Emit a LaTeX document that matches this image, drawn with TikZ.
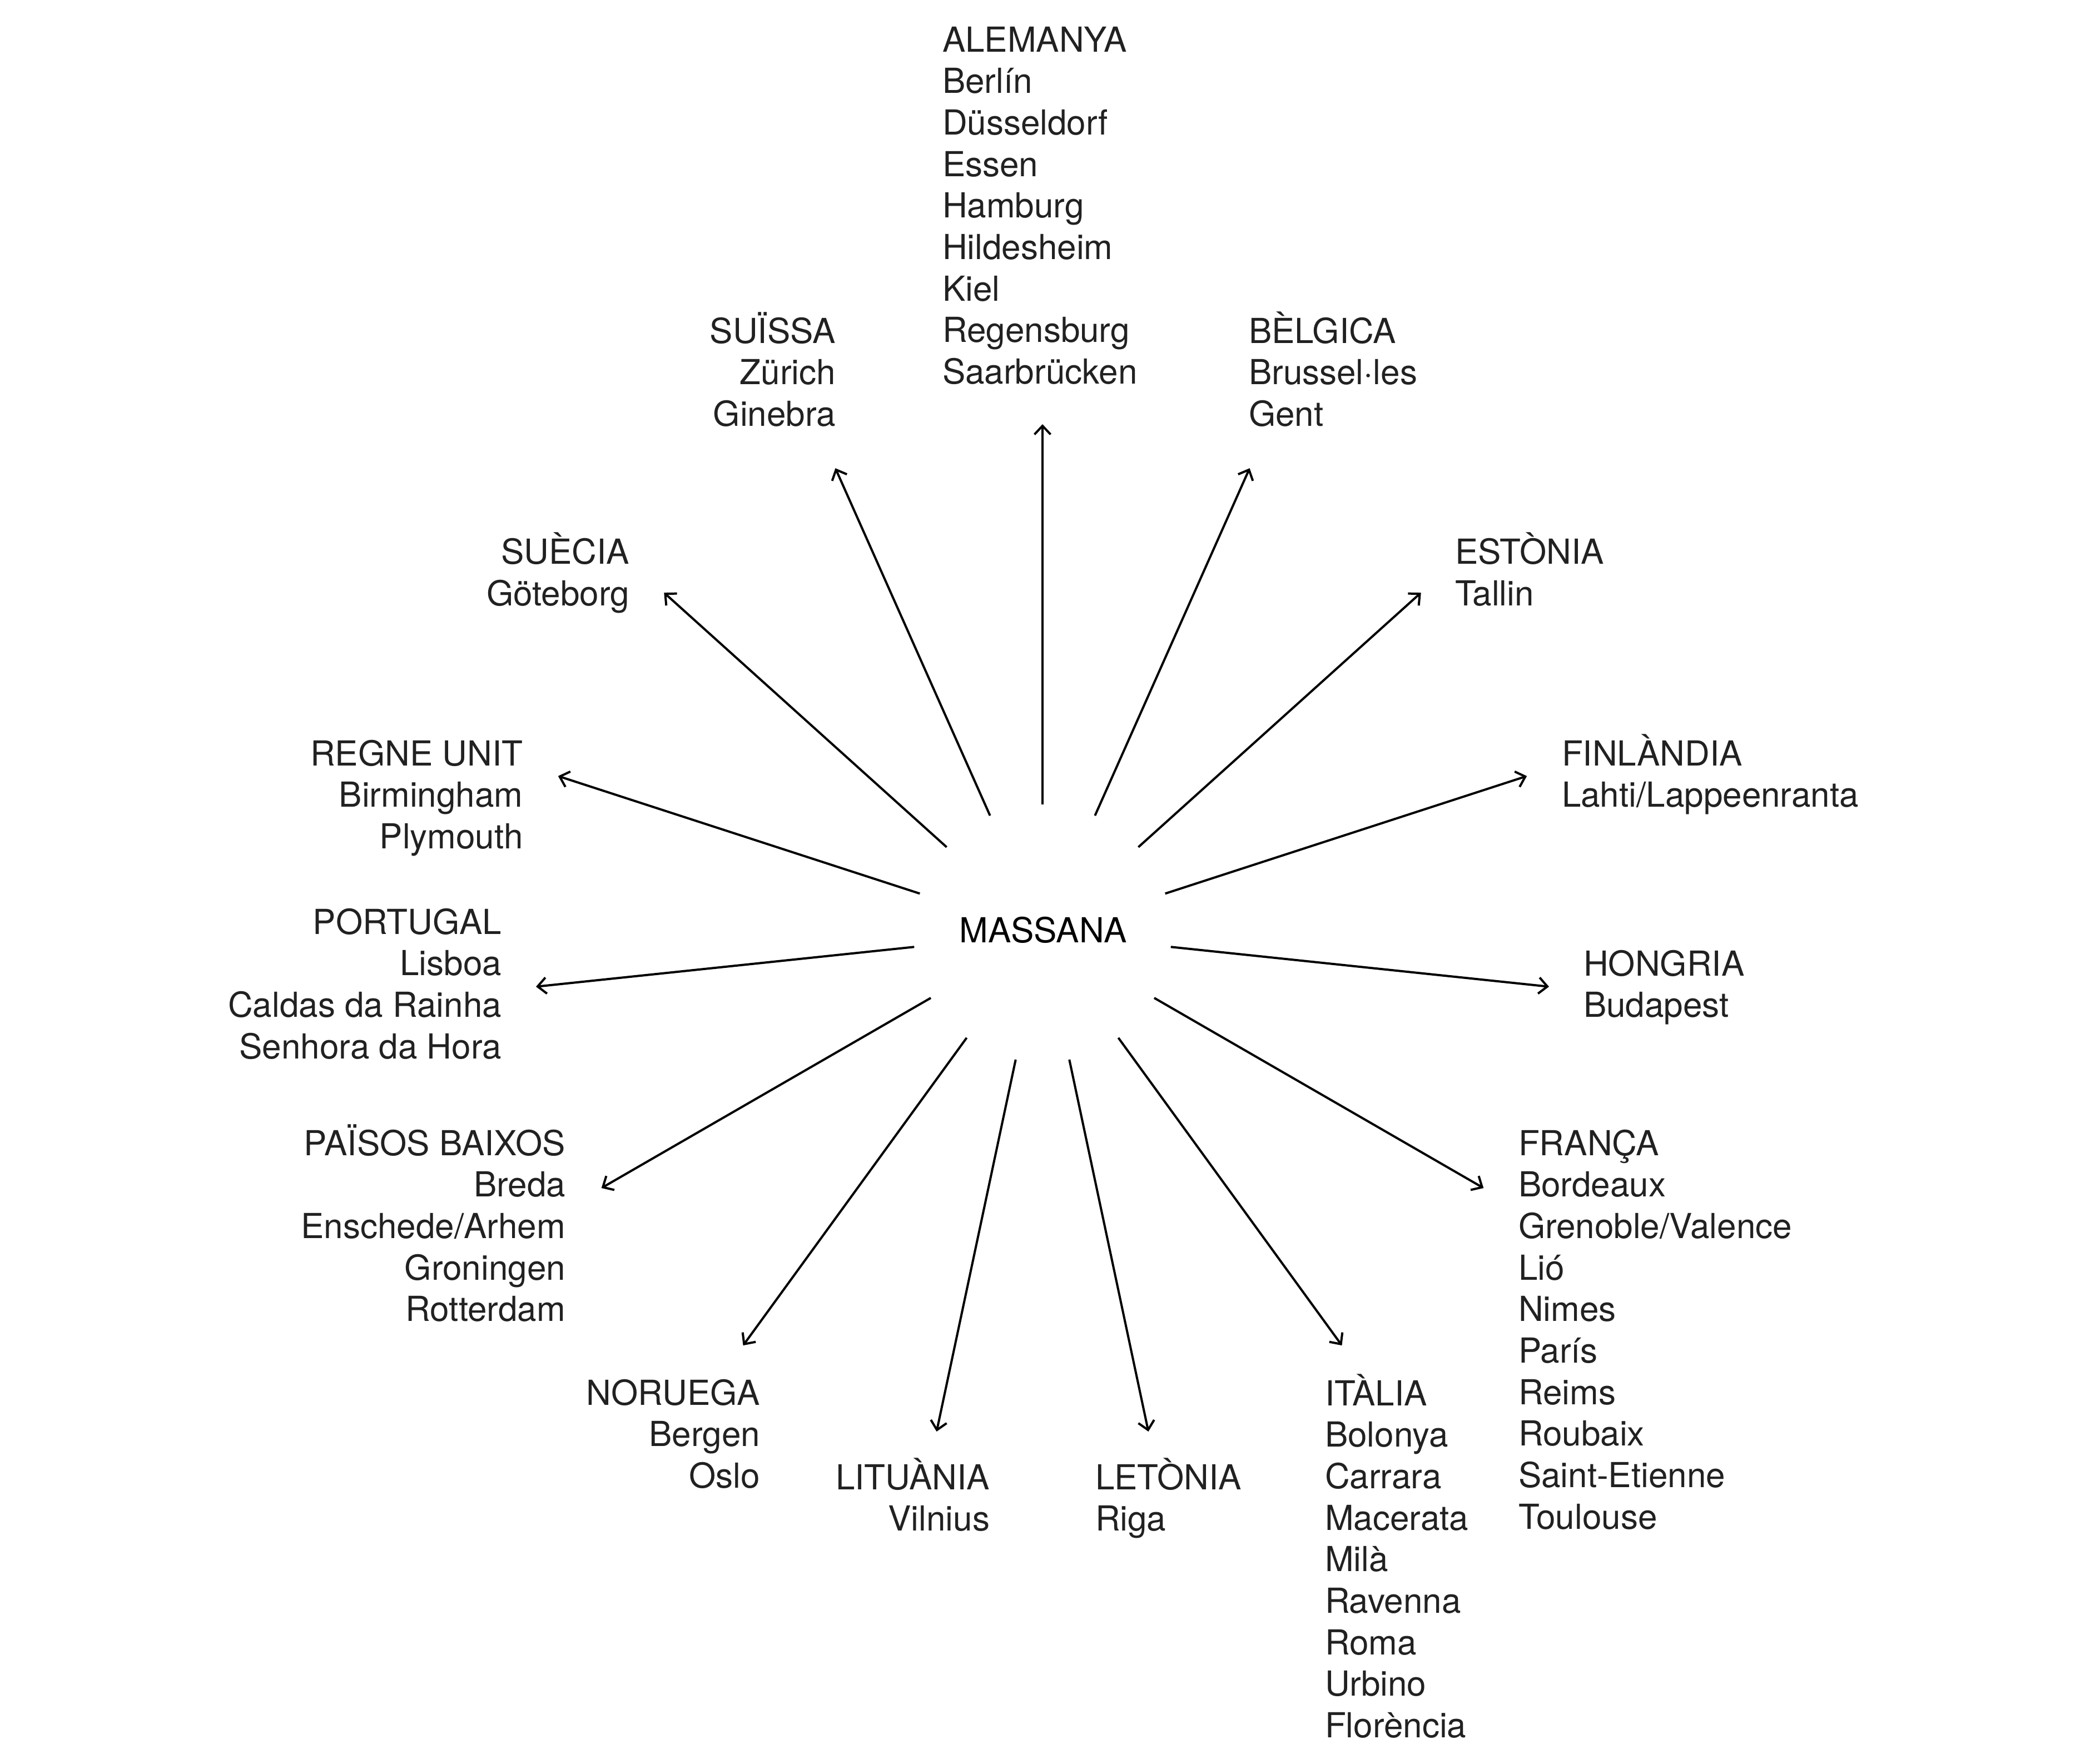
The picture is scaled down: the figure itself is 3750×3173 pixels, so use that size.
\documentclass[tikz,border=0pt]{standalone}
\usepackage{fontspec}
\setmainfont{TeX Gyre Heros}
\usetikzlibrary{arrows.meta,calc}
\definecolor{ink}{gray}{0.13}
\newcommand\lstrut{\rule{0pt}{13pt}}
\begin{document}
\begin{tikzpicture}[x=0.2pt,y=-0.2pt,
  lab/.style={inner sep=0pt, outer sep=0pt, text=ink, font=\fontsize{12.4}{14.94}\selectfont},
  labl/.style={lab, align=left, anchor=north west},
  labr/.style={lab, align=right, anchor=north east},
  arr/.style={draw=black, line width=0.8pt, -{Straight Barb[length=3.1pt,width=5.8pt]}}]
\useasboundingbox (0,0) rectangle (3750,3173);

% centre
\node[lab, text=black, anchor=base] (m) at (1876,1695) {MASSANA};
\coordinate (c) at (1875,1679);

% labels
\node[labl] (ale) at (1695,28) {\lstrut ALEMANYA\\Berlín\\Düsseldorf\\Essen\\Hamburg\\Hildesheim\\Kiel\\Regensburg\\Saarbrücken};
\node[labr] (sui) at (1503,552) {\lstrut SUÏSSA\\Zürich\\Ginebra};
\node[labl] (bel) at (2246,552) {\lstrut BÈLGICA\\Brussel·les\\Gent};
\node[labr] (sue) at (1132,949.5) {\lstrut SUÈCIA\\Göteborg};
\node[labl] (est) at (2617,949.5) {\lstrut ESTÒNIA\\Tallin};
\node[labr] (reg) at (940.5,1312) {\lstrut REGNE UNIT\\Birmingham\\Plymouth};
\node[labl] (fin) at (2809,1312) {\lstrut FINLÀNDIA\\Lahti/Lappeenranta};
\node[labr] (por) at (902,1615) {\lstrut PORTUGAL\\Lisboa\\Caldas da Rainha\\Senhora da Hora};
\node[labl] (hon) at (2848,1690) {\lstrut HONGRIA\\Budapest};
\node[labr] (pai) at (1017,2013) {\lstrut PAÏSOS BAIXOS\\Breda\\Enschede/Arhem\\Groningen\\Rotterdam};
\node[labl] (fra) at (2731,2013) {\lstrut FRANÇA\\Bordeaux\\Grenoble/Valence\\Lió\\Nimes\\París\\Reims\\Roubaix\\Saint-Etienne\\Toulouse};
\node[labr] (nor) at (1367,2462) {\lstrut NORUEGA\\Bergen\\Oslo};
\node[labl] (ita) at (2383,2463) {\lstrut ITÀLIA\\Bolonya\\Carrara\\Macerata\\Milà\\Ravenna\\Roma\\Urbino\\Florència};
\node[labr] (lit) at (1780,2614) {\lstrut LITUÀNIA\\Vilnius};
\node[labl] (let) at (1970,2614) {\lstrut LETÒNIA\\Riga};

% arrows
\foreach \a [count=\i] in {90,114,...,426} {
  \coordinate (s\i) at ($(c)+(-\a:232)$);
  \coordinate (t\i) at ($(c)+(-\a:916)$);
  \draw[arr] (s\i) -- (t\i);
}
\end{tikzpicture}
\end{document}
